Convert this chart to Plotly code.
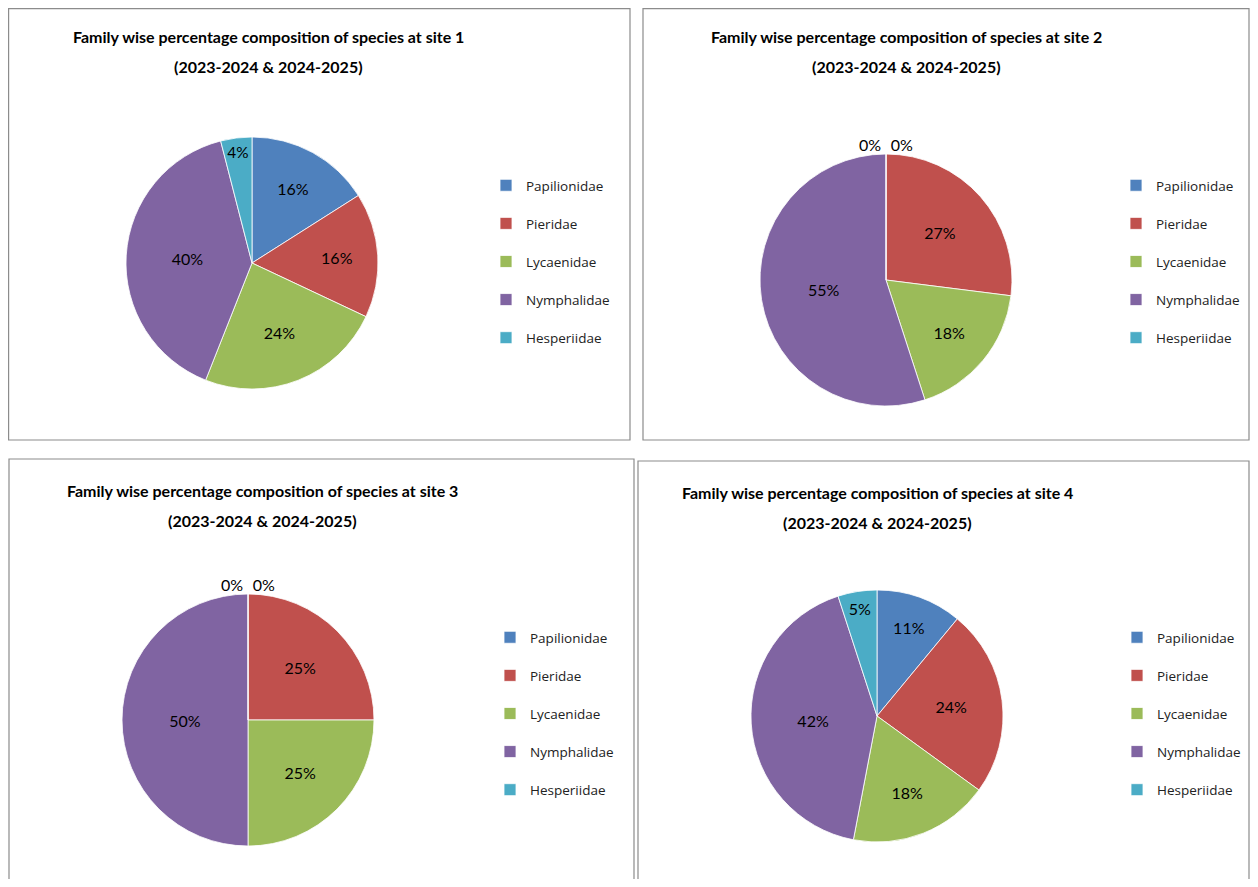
import plotly.graph_objects as go

# ---- data (percentage composition) ----
families = ["Papilionidae", "Pieridae", "Lycaenidae", "Nymphalidae", "Hesperiidae"]
colors = ["#4F81BD", "#C0504D", "#9BBB59", "#8064A2", "#4BACC6"]
site1 = [16, 16, 24, 40, 4]
site2 = [0, 27, 18, 55, 0]
site3 = [0, 25, 25, 50, 0]
site4 = [11, 24, 18, 42, 5]
site_names = ["site 1", "site 2", "site 3", "site 4"]
title_line1 = "Family wise percentage composition of species at "
period = "(2023-2024 & 2024-2025)"

OFF = 8                      # page body margin
FW, FH = 1250, 871           # figure size
FONT = "Lato, Carlito, Calibri, sans-serif"
LEG_FONT = "Open Sans, Lato, sans-serif"

# panel layout in page pixels (top-left origin)
panels = [
    dict(box=(8.6, 8.6, 630, 440), center=(252, 263), title=(268, 36), legend=(486, 170)),
    dict(box=(643, 8.6, 1249, 440), center=(886, 280), title=(907, 36), legend=(1116, 170)),
    dict(box=(9, 459, 634, 900), center=(248, 720), title=(262, 490), legend=(490, 622)),
    dict(box=(638, 461, 1249, 900), center=(877, 716), title=(877, 492), legend=(1117, 622)),
]
DIAM = 252

def fx(x):
    return (x - OFF) / FW

def fy(y):
    return 1 - (y - OFF) / FH

fig = go.Figure()
legend_names = ["legend", "legend2", "legend3", "legend4"]

for i, (vals, p) in enumerate(zip([site1, site2, site3, site4], panels)):
    cx, cy = p["center"]
    # unique (invisible suffix) labels so each pie keeps its own legend
    labels = [f + "\u200b" * i + "<br> " for f in families]
    fig.add_trace(go.Pie(
        labels=labels,
        values=[v / 100 for v in vals],
        marker=dict(colors=colors, line=dict(color="white", width=0.8)),
        sort=False,
        direction="clockwise",
        rotation=0,
        texttemplate="%{percent:.0%}",
        textposition=["inside" if v > 0 else "outside" for v in vals],
        insidetextorientation="horizontal",
        textfont=dict(family=FONT, size=16, color="black"),
        insidetextfont=dict(family=FONT, size=16, color="black"),
        outsidetextfont=dict(family=FONT, size=16, color="black"),
        domain=dict(x=[fx(cx - DIAM / 2), fx(cx + DIAM / 2)],
                    y=[fy(cy + DIAM / 2), fy(cy - DIAM / 2)]),
        legend=legend_names[i],
        showlegend=True,
        hovertemplate="%{label}: %{percent:.0%}<extra></extra>",
    ))

layout_legends = {}
for i, p in enumerate(panels):
    lx, ly = p["legend"]
    layout_legends[legend_names[i]] = dict(
        x=fx(lx), y=fy(ly), xanchor="left", yanchor="top",
        font=dict(family=LEG_FONT, size=13.5, color="#222"),
        valign="top", bgcolor="rgba(0,0,0,0)",
        traceorder="normal",
    )

shapes = []
annotations = []
for i, p in enumerate(panels):
    x0, y0, x1, y1 = p["box"]
    shapes.append(dict(type="rect", xref="paper", yref="paper",
                       x0=fx(x0), x1=fx(x1), y0=fy(y1), y1=fy(y0),
                       line=dict(color="#8c8c8c", width=1.2), fillcolor="rgba(0,0,0,0)"))
    tx, ty = p["title"]
    for k, line in enumerate([title_line1 + site_names[i], period]):
        annotations.append(dict(
            x=fx(tx), y=fy(ty + 30 * k), xref="paper", yref="paper", showarrow=False,
            xanchor="center", yanchor="middle", align="center",
            text=f"<b>{line}</b>",
            font=dict(family=FONT, size=16, color="black"),
        ))

fig.update_layout(
    width=FW, height=FH,
    margin=dict(l=0, r=0, t=0, b=0),
    paper_bgcolor="white", plot_bgcolor="white",
    shapes=shapes, annotations=annotations,
    **layout_legends,
)

fig.write_html("out.html")
